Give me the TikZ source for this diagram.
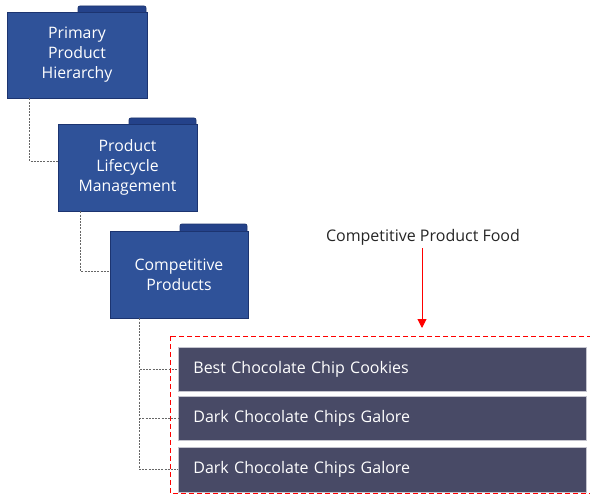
\documentclass[tikz,border=0pt]{standalone}
\usepackage{fontspec}
\setmainfont{Open Sans}
\usepackage{xcolor}
\usetikzlibrary{arrows}
\usetikzlibrary{arrows.meta}

\definecolor{folderblue}{RGB}{47,82,153}
\definecolor{folderline}{RGB}{28,52,112}
\definecolor{tabblue}{RGB}{36,66,138}
\definecolor{barslate}{RGB}{72,74,102}
\definecolor{barline}{RGB}{196,196,206}

\begin{document}
\begin{tikzpicture}[x=1pt,y=-1pt]
 \useasboundingbox (0,0) rectangle (590,495);
 \tikzset{
   % folder shaped box with a tab on top
   folder/.style={draw=folderline,fill=folderblue,line width=0.8pt,
     minimum width=140pt,minimum height=86pt,inner sep=0pt,
     text=white,align=center,font=\fontsize{15.8}{20}\selectfont},
   tab/.style={draw=folderline,fill=tabblue,line width=0.8pt,rounded corners=2pt},
 }
     \tikzstyle{bar}=[draw=barline,fill=barslate,line width=0.8pt,anchor=west,
       minimum height=44pt,text width=378pt,inner xsep=15pt,align=left,
       text=white,font=\fontsize{16}{19}\selectfont]
     \tikzstyle{link}=[draw=black!60,dash pattern=on 2pt off 1.2pt,line width=0.8pt]
     \tikzstyle{frame}=[draw=red,dash pattern=on 5pt off 3pt,line width=1pt]
     \tikzstyle{pointer}=[draw=red,line width=1pt,-{Triangle[length=9pt,width=9pt]}]

     % folders
     \draw[tab] (78,12) -- (78,6) -- (146,6) -- (146,12);
     \node[folder] (b1) at (77,55) {Primary\\Product\\Hierarchy};
     \draw[tab] (129,124) -- (129,118) -- (196,118) -- (196,124);
     \node[folder,minimum width=139pt,minimum height=87pt] (b2) at (127.5,167.5) {Product\\Lifecycle\\Management};
     \draw[tab] (180,231) -- (180,224) -- (247,224) -- (247,231);
     \node[folder,minimum width=138pt,minimum height=87pt] (b3) at (179,274.5) {Competitive\\Products};

     % products
     \node[bar] (p1) at (178,369.5) {Best Chocolate Chip Cookies};
     \node[bar] (p2) at (178,418) {Dark Chocolate Chips Galore};
     \node[bar,minimum height=45pt] (p3) at (178,469.5) {Dark Chocolate Chips Galore};

     \draw[link] ([xshift=23pt]b1.south west) |- ([yshift=6pt]b2.west);
     \draw[link] ([xshift=23pt]b2.south west) |- ([yshift=3pt]b3.west);
     \draw[link] ([xshift=30pt]b3.south west) |- (p1.west);
     \draw[link] ([xshift=30pt]b3.south west) |- (p2.west);
     \draw[link] ([xshift=30pt]b3.south west) |- (p3.west);

     % selection
     \draw[frame] (170,336) rectangle (600,493);
     \node[text=black!85,font=\fontsize{16}{19}\selectfont,inner sep=3pt] (food) at (423,237) {Competitive Product Food};
     \coordinate (ftop) at (422,328);
     \draw[pointer] (food.south -| ftop) -- (ftop);
 \end{tikzpicture}
\end{document}
